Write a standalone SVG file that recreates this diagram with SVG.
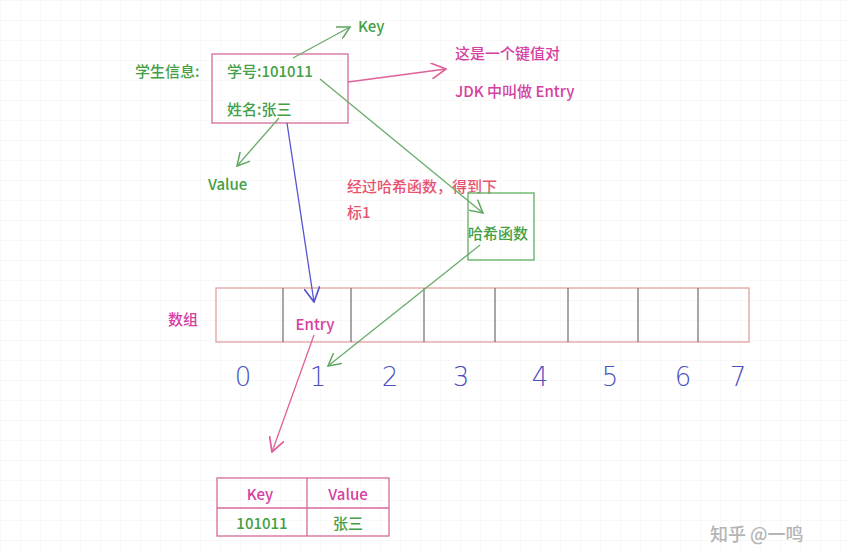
<svg xmlns="http://www.w3.org/2000/svg" width="850" height="552" viewBox="0 0 850 552">
<defs>
<pattern id="grid" width="20" height="20" patternUnits="userSpaceOnUse">
<path d="M20 0 L0 0 0 20" fill="none" stroke="#f2f2f4" stroke-width="1"/>
</pattern>
<marker id="ag" viewBox="0 0 12 12" refX="11" refY="6" markerWidth="14" markerHeight="14" markerUnits="userSpaceOnUse" orient="auto"><path d="M0 0 L11 6 L0 12" fill="none" stroke="#5fa85f" stroke-width="1.3"/></marker>
<marker id="ap" viewBox="0 0 12 12" refX="11" refY="6" markerWidth="16" markerHeight="16" markerUnits="userSpaceOnUse" orient="auto"><path d="M0 0 L11 6 L0 12" fill="none" stroke="#e0609a" stroke-width="1.3"/></marker>
<marker id="ab" viewBox="0 0 12 12" refX="11" refY="6" markerWidth="16" markerHeight="16" markerUnits="userSpaceOnUse" orient="auto"><path d="M0 0 L11 6 L0 12" fill="none" stroke="#5555d0" stroke-width="1.3"/></marker>
<style>
text{font-family:"Noto Sans CJK SC","Noto Sans",sans-serif;dominant-baseline:central;font-weight:500}
.g{fill:#44a044;font-size:15px}
.m{fill:#d6409f;font-size:15px}
.r{fill:#e85470;font-size:15px}
.num{fill:#4a4fc0;font-size:26px;font-family:"DejaVu Sans",sans-serif;font-weight:200;text-anchor:middle}
.lg{stroke:#6aab6a;stroke-width:1.3;fill:none}
.lp{stroke:#e0609a;stroke-width:1.3;fill:none}
.lb{stroke:#5555d0;stroke-width:1.3;fill:none}
</style>
</defs>
<rect width="850" height="552" fill="#ffffff"/>
<rect width="850" height="552" fill="url(#grid)"/>

<g id="student">
<text class="g" x="135" y="70">学生信息:</text>
<rect x="212" y="54" width="136" height="69" fill="none" stroke="#d66a9a" stroke-width="1.3"/>
<text class="g" x="227" y="70">学号:101011</text>
<text class="g" x="227" y="108">姓名:张三</text>
</g>

<g id="key-label"><text class="g" x="358" y="25">Key</text></g>
<g id="value-label"><text class="g" x="208" y="183">Value</text></g>

<g id="entry-note">
<text class="m" x="455" y="52">这是一个键值对</text>
<text class="m" x="455" y="90">JDK 中叫做 Entry</text>
</g>

<g id="hash-note">
<text class="r" x="347" y="185">经过哈希函数，得到下</text>
<text class="r" x="347" y="211">标1</text>
</g>

<g id="hash">
<rect x="468" y="193" width="66" height="67" fill="none" stroke="#5fae5f" stroke-width="1.3"/>
<text class="g" x="468" y="232">哈希函数</text>
</g>

<g id="array">
<text class="m" x="168" y="318">数组</text>
<rect x="216" y="288" width="533" height="54" fill="none" stroke="#e0a0a0" stroke-width="1.3"/>
<g stroke="#777" stroke-width="1.3">
<line x1="283" y1="288" x2="283" y2="342"/>
<line x1="351" y1="288" x2="351" y2="342"/>
<line x1="424" y1="288" x2="424" y2="342"/>
<line x1="495" y1="288" x2="495" y2="342"/>
<line x1="568" y1="288" x2="568" y2="342"/>
<line x1="638" y1="288" x2="638" y2="342"/>
<line x1="698" y1="288" x2="698" y2="342"/>
</g>
<text class="m" x="315" y="323" text-anchor="middle">Entry</text>
</g>

<g id="indices">
<text class="num" x="243" y="377">0</text>
<text class="num" x="318" y="377">1</text>
<text class="num" x="390" y="377">2</text>
<text class="num" x="461" y="377">3</text>
<text class="num" x="540" y="377">4</text>
<text class="num" x="610" y="377">5</text>
<text class="num" x="683" y="377">6</text>
<text class="num" x="738" y="377">7</text>
</g>

<g id="table">
<rect x="217" y="478" width="172" height="58" fill="none" stroke="#d66a9a" stroke-width="1.3"/>
<line x1="217" y1="508" x2="389" y2="508" stroke="#d66a9a" stroke-width="1.3"/>
<line x1="307" y1="478" x2="307" y2="536" stroke="#d66a9a" stroke-width="1.3"/>
<text class="m" x="260" y="493" text-anchor="middle">Key</text>
<text class="m" x="348" y="493" text-anchor="middle">Value</text>
<text class="g" x="262" y="522" text-anchor="middle">101011</text>
<text class="g" x="348" y="522" text-anchor="middle">张三</text>
</g>

<g id="connectors">
<line class="lg" x1="293" y1="58" x2="350" y2="27" marker-end="url(#ag)"/>
<line class="lg" x1="279" y1="118" x2="237" y2="166" marker-end="url(#ag)"/>
<line class="lp" x1="348" y1="82" x2="446" y2="69" marker-end="url(#ap)"/>
<line class="lg" x1="320" y1="79" x2="483" y2="213" marker-end="url(#ag)"/>
<line class="lb" x1="287" y1="123" x2="314" y2="302" marker-end="url(#ab)"/>
<line class="lg" x1="480" y1="245" x2="328" y2="366" marker-end="url(#ag)"/>
<line class="lp" x1="314" y1="335" x2="272" y2="452" marker-end="url(#ap)"/>
</g>

<g id="watermark">
<text x="710" y="533" fill="#b5b5b5" font-size="18">知乎 @一鸣</text>
</g>
</svg>
